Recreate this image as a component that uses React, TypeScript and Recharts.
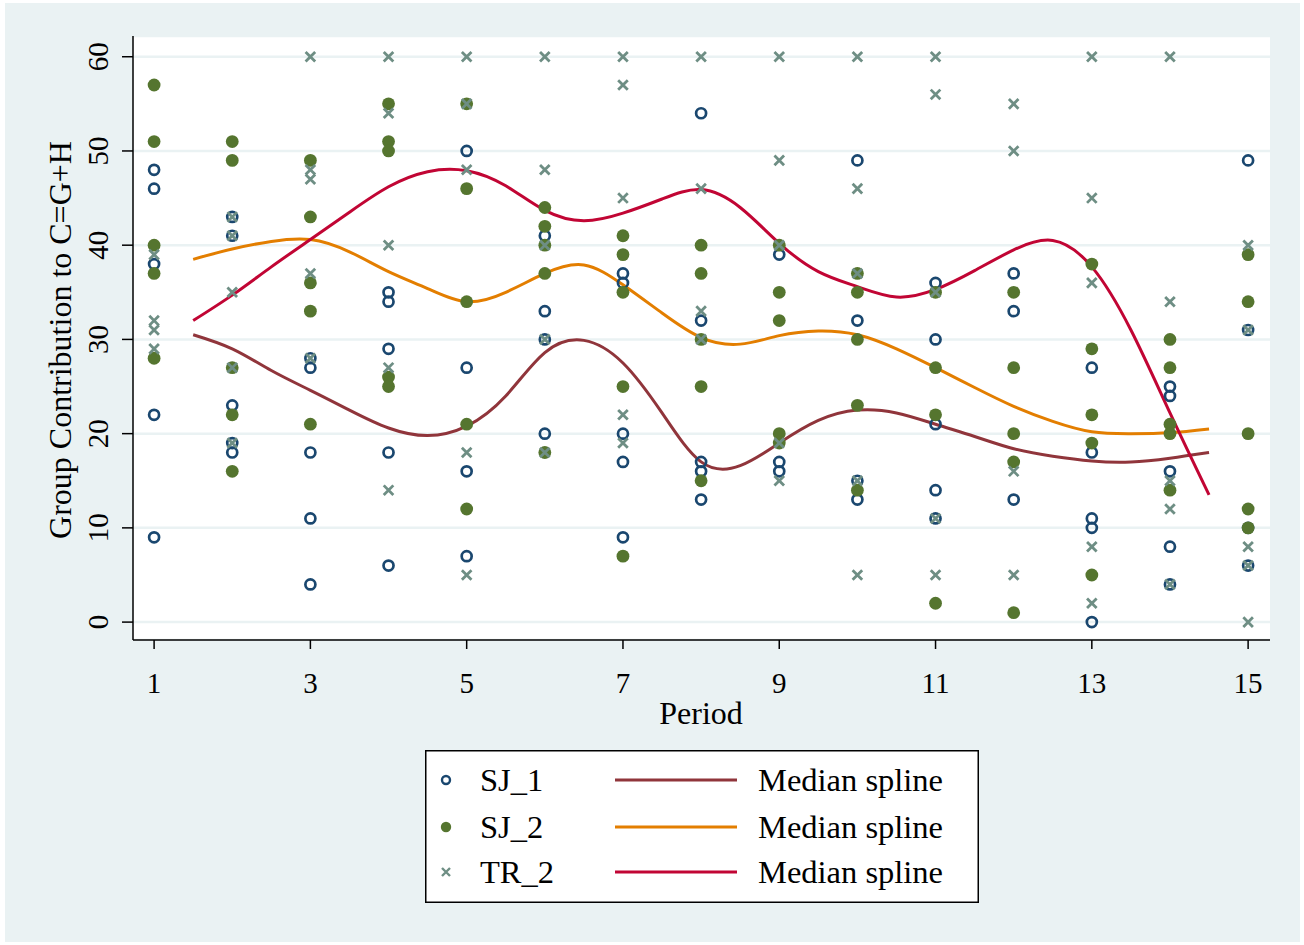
import React from 'react';
import {
  ComposedChart, Scatter, Line, XAxis, YAxis, CartesianGrid, Label,
} from 'recharts';

// observations per period (1..15)
const periods = [1, 2, 3, 4, 5, 6, 7, 8, 9, 10, 11, 12, 13, 14, 15];
const sj1Values = [
  [48, 46, 38, 22, 9], [43, 41, 23, 19, 18], [28, 27, 18, 11, 4], [35, 34, 29, 18, 6],
  [50, 27, 16, 7], [41, 33, 30, 20], [37, 36, 20, 17, 9], [54, 32, 17, 16, 13],
  [39, 17, 16], [49, 32, 15, 13], [36, 30, 21, 14, 11], [37, 33, 13],
  [27, 18, 11, 10, 0], [25, 24, 16, 8, 4], [49, 31, 10, 6],
];
const sj2Values = [
  [57, 51, 40, 37, 28], [51, 49, 27, 22, 16], [49, 43, 36, 33, 21], [55, 51, 50, 26, 25],
  [55, 46, 34, 21, 12], [44, 42, 40, 37, 18], [41, 39, 35, 25, 7], [40, 37, 30, 25, 15],
  [40, 35, 32, 20, 19], [37, 35, 30, 23, 14], [35, 27, 22, 2], [35, 27, 20, 17, 1],
  [38, 29, 22, 19, 5], [30, 27, 21, 20, 14], [39, 34, 20, 12, 10],
];
const tr2Values = [
  [39, 32, 31, 29], [43, 41, 35, 27, 19], [60, 48, 47, 37, 28], [60, 54, 40, 27, 14],
  [60, 55, 48, 18, 5], [60, 48, 40, 30, 18], [60, 57, 45, 22, 19], [60, 46, 33, 30],
  [60, 49, 40, 19, 15], [60, 46, 37, 15, 5], [60, 56, 35, 11, 5], [55, 50, 16, 5],
  [60, 45, 36, 8, 2], [60, 34, 15, 12, 4], [40, 31, 8, 6, 0],
];

// median spline curves
const splineX = [1.5, 2, 2.5, 3, 3.5, 4, 4.5, 5, 5.5, 6, 6.5, 7, 7.5, 8, 8.5, 9, 9.5, 10, 10.5, 11, 11.5, 12, 12.5, 13, 13.5, 14, 14.5];
const sj1Spline = [30.5, 29.0, 26.7, 24.6, 22.5, 20.6, 19.8, 20.8, 24.0, 28.6, 29.9, 27.5, 22.2, 17.0, 16.6, 19.0, 21.4, 22.5, 22.2, 21.0, 19.7, 18.4, 17.6, 17.1, 17.0, 17.4, 18.0];
const sj2Spline = [38.5, 39.6, 40.4, 40.6, 39.3, 37.2, 35.4, 34.0, 35.0, 37.0, 37.9, 35.8, 32.8, 30.2, 29.5, 30.4, 30.9, 30.5, 29.0, 27.0, 24.9, 22.9, 21.3, 20.2, 20.0, 20.1, 20.5];
const tr2Spline = [32.0, 34.7, 37.7, 40.6, 43.5, 46.2, 47.8, 47.9, 46.3, 43.7, 42.6, 43.4, 44.9, 45.9, 44.0, 40.2, 37.2, 35.6, 34.5, 35.3, 37.3, 39.5, 40.5, 37.7, 31.0, 22.2, 13.5];

const xTicks = [1, 3, 5, 7, 9, 11, 13, 15];
const yTicks = [0, 10, 20, 30, 40, 50, 60];

const NAVY = '#1A476F';
const GREEN = '#55752F';
const TEAL = '#6E8E84';
const MAROON = '#90353B';
const ORANGE = '#E37E00';
const CRANBERRY = '#C10534';
const BG = '#EAF2F3';
const FONT = '"Liberation Serif", "Times New Roman", serif';

const toPoints = (vals: number[][]) =>
  periods.flatMap((p, i) => vals[i].map((v) => ({ x: p, y: v })));
const toCurve = (vals: number[]) => splineX.map((x, i) => ({ x, y: vals[i] }));

const hollow = (p: any) => (
  <circle cx={p.cx} cy={p.cy} r={5} fill="none" stroke={NAVY} strokeWidth={2.7} />
);
const solid = (p: any) => <circle cx={p.cx} cy={p.cy} r={6.4} fill={GREEN} />;
const cross = (p: any) => {
  const s = 4.8;
  return (
    <path
      d={`M${p.cx - s},${p.cy - s}L${p.cx + s},${p.cy + s}M${p.cx - s},${p.cy + s}L${p.cx + s},${p.cy - s}`}
      stroke={TEAL}
      strokeWidth={2.8}
      fill="none"
    />
  );
};

const XTick = (p: any) => (
  <text x={p.x} y={693} textAnchor="middle" fontSize={29} fontFamily={FONT} fill="#000">
    {p.payload.value}
  </text>
);
const YTick = (p: any) => (
  <text x={108} y={p.y} transform={`rotate(-90, 108, ${p.y})`} textAnchor="middle" fontSize={29} fontFamily={FONT} fill="#000">
    {p.payload.value}
  </text>
);

function LegendBox() {
  const rows = [
    { name: 'SJ_1', color: MAROON, y: 30 },
    { name: 'SJ_2', color: ORANGE, y: 77 },
    { name: 'TR_2', color: CRANBERRY, y: 122 },
  ];
  return (
    <svg width={554} height={153} style={{ position: 'absolute', left: 425, top: 750 }}>
      <rect x={0.75} y={0.75} width={552.5} height={151.5} fill="#fff" stroke="#000" strokeWidth={1.5} />
      <circle cx={21} cy={30} r={4} fill="none" stroke={NAVY} strokeWidth={2.4} />
      <circle cx={21} cy={77} r={5.2} fill={GREEN} />
      <path d="M17,118L25,126M17,126L25,118" stroke={TEAL} strokeWidth={2.4} />
      {rows.map((r) => (
        <g key={r.name}>
          <text x={55} y={r.y + 11} fontSize={32.5} fontFamily={FONT} fill="#000">{r.name}</text>
          <line x1={190} x2={312} y1={r.y} y2={r.y} stroke={r.color} strokeWidth={3} />
          <text x={333} y={r.y + 11} fontSize={32.5} fontFamily={FONT} fill="#000">Median spline</text>
        </g>
      ))}
    </svg>
  );
}

export default function App() {
  return (
    <div style={{ position: 'absolute', left: 0, top: 0, width: 1304, height: 945, background: '#fff' }}>
      <div style={{ position: 'absolute', left: 5, top: 3, width: 1295, height: 939, background: BG }} />
      <div style={{ position: 'absolute', left: 0, top: 0 }}>
        <ComposedChart width={1304} height={945} margin={{ top: 36, right: 34, left: 73, bottom: 275 }}>
          <CartesianGrid vertical={false} fill="#fff" stroke={BG} strokeWidth={2.5} />
          <XAxis
            dataKey="x"
            type="number"
            domain={[0.73, 15.28]}
            ticks={xTicks}
            allowDataOverflow
            height={30}
            tickSize={9}
            tick={<XTick />}
            axisLine={{ stroke: '#000', strokeWidth: 1.5 }}
            tickLine={{ stroke: '#000', strokeWidth: 1.5 }}
          >
            <Label
              content={() => (
                <text x={701} y={724} textAnchor="middle" fontSize={32} fontFamily={FONT} fill="#000">Period</text>
              )}
            />
          </XAxis>
          <YAxis
            dataKey="y"
            type="number"
            domain={[-1.9, 62.2]}
            ticks={yTicks}
            allowDataOverflow
            width={60}
            tickSize={11}
            tick={<YTick />}
            axisLine={{ stroke: '#000', strokeWidth: 1.5 }}
            tickLine={{ stroke: '#000', strokeWidth: 1.5 }}
          >
            <Label
              content={() => (
                <text x={71} y={340} transform="rotate(-90, 71, 340)" textAnchor="middle" fontSize={32} fontFamily={FONT} fill="#000">
                  Group Contribution to C=G+H
                </text>
              )}
            />
          </YAxis>
          <Scatter data={toPoints(sj1Values)} dataKey="y" shape={hollow} isAnimationActive={false} />
          <Line data={toCurve(sj1Spline)} dataKey="y" type="natural" stroke={MAROON} strokeWidth={3} dot={false} isAnimationActive={false} />
          <Scatter data={toPoints(sj2Values)} dataKey="y" shape={solid} isAnimationActive={false} />
          <Line data={toCurve(sj2Spline)} dataKey="y" type="natural" stroke={ORANGE} strokeWidth={3} dot={false} isAnimationActive={false} />
          <Scatter data={toPoints(tr2Values)} dataKey="y" shape={cross} isAnimationActive={false} />
          <Line data={toCurve(tr2Spline)} dataKey="y" type="natural" stroke={CRANBERRY} strokeWidth={3} dot={false} isAnimationActive={false} />
        </ComposedChart>
      </div>
      <LegendBox />
    </div>
  );
}
